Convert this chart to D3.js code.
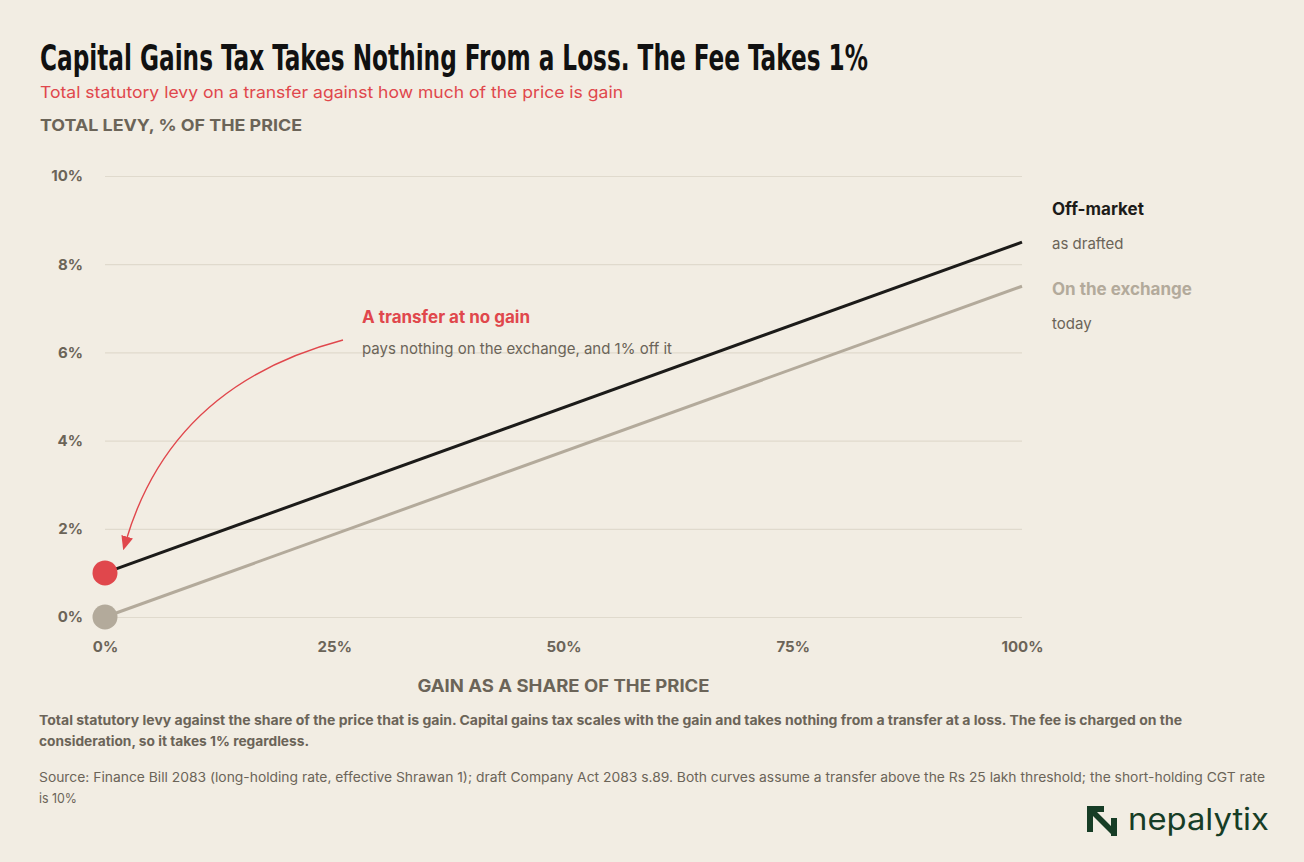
<!DOCTYPE html>
<html>
<head>
<meta charset="utf-8">
<script src="https://cdn.jsdelivr.net/npm/d3@7"></script>
<style>
  html, body { margin: 0; padding: 0; background: #f2ede3; }
  svg { display: block; }
</style>
</head>
<body>
<svg id="chart" width="1304" height="862"></svg>
<script>
// gain as a share of the price (%)
const gainShare = [0, 100];
// total levy, % of the price
const offMarket = [1, 8.5];
const onExchange = [0, 7.5];
const xTicks = [0, 25, 50, 75, 100];
const yTicks = [0, 2, 4, 6, 8, 10];

const width = 1304,
  height = 862,
  margin = { top: 176, right: 282, bottom: 245, left: 105 };

const ink = '#6b6458',
  red = '#e0474c',
  dark = '#1c1b19',
  sand = '#b3aa9b',
  grid = '#e0dacd';

const svg = d3.select('#chart').style('background-color', '#f2ede3');

const x = d3
  .scaleLinear()
  .domain([0, 100])
  .range([margin.left, width - margin.right]);

const y = d3
  .scaleLinear()
  .domain([0, 10])
  .range([height - margin.bottom, margin.top]);

// titles
svg
  .append('text')
  .attr('x', 40)
  .attr('y', 70)
  .attr('font-family', "'Liberation Sans Narrow', 'DejaVu Sans Condensed', sans-serif")
  .attr('font-weight', 'bold')
  .attr('font-size', 35)
  .attr('fill', '#111')
  .attr('textLength', 828)
  .attr('lengthAdjust', 'spacingAndGlyphs')
  .text('Capital Gains Tax Takes Nothing From a Loss. The Fee Takes 1%');

svg
  .append('text')
  .attr('x', 40)
  .attr('y', 98)
  .attr('font-family', 'Inter, sans-serif')
  .attr('font-size', 16.5)
  .attr('fill', red)
  .attr('textLength', 583)
  .attr('lengthAdjust', 'spacingAndGlyphs')
  .text('Total statutory levy on a transfer against how much of the price is gain');

svg
  .append('text')
  .attr('x', 40)
  .attr('y', 131)
  .attr('font-family', 'Inter, sans-serif')
  .attr('font-weight', 'bold')
  .attr('font-size', 16)
  .attr('fill', ink)
  .attr('textLength', 262)
  .attr('lengthAdjust', 'spacingAndGlyphs')
  .text('TOTAL LEVY, % OF THE PRICE');

// y axis with gridlines
svg
  .append('g')
  .attr('transform', `translate(${margin.left},0)`)
  .call(
    d3
      .axisLeft(y)
      .tickValues(yTicks)
      .tickSize(-(width - margin.left - margin.right))
      .tickPadding(22)
      .tickFormat(d => d + '%')
  )
  .call(g => g.select('.domain').remove())
  .call(g => g.selectAll('.tick line').attr('stroke', grid).attr('stroke-width', 1.2))
  .call(g =>
    g
      .selectAll('.tick text')
      .attr('font-family', 'Inter, sans-serif')
      .attr('font-weight', 'bold')
      .attr('font-size', 15)
      .attr('fill', ink)
  );

// x axis labels
svg
  .append('g')
  .attr('transform', `translate(0,${height - margin.bottom})`)
  .call(
    d3
      .axisBottom(x)
      .tickValues(xTicks)
      .tickSize(0)
      .tickPadding(24)
      .tickFormat(d => d + '%')
  )
  .call(g => g.select('.domain').remove())
  .call(g =>
    g
      .selectAll('.tick text')
      .attr('font-family', 'Inter, sans-serif')
      .attr('font-weight', 'bold')
      .attr('font-size', 15)
      .attr('fill', ink)
  );

svg
  .append('text')
  .attr('x', (x(0) + x(100)) / 2)
  .attr('y', 692)
  .attr('text-anchor', 'middle')
  .attr('font-family', 'Inter, sans-serif')
  .attr('font-weight', 'bold')
  .attr('font-size', 17)
  .attr('fill', ink)
  .attr('textLength', 292)
  .attr('lengthAdjust', 'spacingAndGlyphs')
  .text('GAIN AS A SHARE OF THE PRICE');

// lines
const line = d3
  .line()
  .x(d => x(d[0]))
  .y(d => y(d[1]));

const series = [
  { name: 'Off-market', note: 'as drafted', values: offMarket, color: dark, dot: red },
  { name: 'On the exchange', note: 'today', values: onExchange, color: sand, dot: sand }
];

svg
  .selectAll('.series')
  .data(series.slice().reverse())
  .join('path')
  .attr('class', 'series')
  .attr('fill', 'none')
  .attr('stroke', d => d.color)
  .attr('stroke-width', 3)
  .attr('d', d => line(d3.zip(gainShare, d.values)));

svg
  .selectAll('.dot')
  .data(series)
  .join('circle')
  .attr('class', 'dot')
  .attr('cx', x(gainShare[0]))
  .attr('cy', d => y(d.values[0]))
  .attr('r', 12.5)
  .attr('fill', d => d.dot);

// legend stacked from the top line end
const legendTop = y(offMarket[1]) - 27;
const legend = svg
  .selectAll('.legend')
  .data(series)
  .join('g')
  .attr('class', 'legend')
  .attr('transform', (d, i) => `translate(1052,${legendTop + i * 80})`);

legend
  .append('text')
  .attr('font-family', 'Inter, sans-serif')
  .attr('font-weight', 'bold')
  .attr('font-size', 17)
  .attr('fill', d => d.color)
  .text(d => d.name);

legend
  .append('text')
  .attr('y', 34)
  .attr('font-family', 'Inter, sans-serif')
  .attr('font-size', 15)
  .attr('fill', ink)
  .text(d => d.note);

// annotation
const defs = svg.append('defs');
defs
  .append('marker')
  .attr('id', 'arrow')
  .attr('viewBox', '0 0 10 10')
  .attr('refX', 3)
  .attr('refY', 5)
  .attr('markerWidth', 14)
  .attr('markerHeight', 12)
  .attr('orient', 'auto-start-reverse')
  .attr('markerUnits', 'userSpaceOnUse')
  .attr('preserveAspectRatio', 'none')
  .append('path')
  .attr('d', 'M0,0L10,5L0,10Z')
  .attr('fill', red);

const ax0 = 343, ay0 = 340;
const ax1 = x(0) + 21, ay1 = y(2) + 12;
svg
  .append('path')
  .attr('d', `M${ax0},${ay0}Q${172},${385} ${ax1},${ay1}`)
  .attr('fill', 'none')
  .attr('stroke', red)
  .attr('stroke-width', 1.4)
  .attr('marker-end', 'url(#arrow)');

svg
  .append('text')
  .attr('x', 362)
  .attr('y', 323)
  .attr('font-family', 'Inter, sans-serif')
  .attr('font-weight', 'bold')
  .attr('font-size', 17)
  .attr('fill', red)
  .text('A transfer at no gain');

svg
  .append('text')
  .attr('x', 362)
  .attr('y', 354)
  .attr('font-family', 'Inter, sans-serif')
  .attr('font-size', 15)
  .attr('fill', ink)
  .text('pays nothing on the exchange, and 1% off it');

// footnotes
const notes = [
  { text: 'Total statutory levy against the share of the price that is gain. Capital gains tax scales with the gain and takes nothing from a transfer at a loss. The fee is charged on the', y: 725, bold: true, len: 1143 },
  { text: 'consideration, so it takes 1% regardless.', y: 746, bold: true, len: 270 },
  { text: 'Source: Finance Bill 2083 (long-holding rate, effective Shrawan 1); draft Company Act 2083 s.89. Both curves assume a transfer above the Rs 25 lakh threshold; the short-holding CGT rate', y: 782, bold: false, len: 1226 },
  { text: 'is 10%', y: 803, bold: false, len: 38 }
];

svg
  .selectAll('.note')
  .data(notes)
  .join('text')
  .attr('class', 'note')
  .attr('x', 39)
  .attr('y', d => d.y)
  .attr('font-family', 'Inter, sans-serif')
  .attr('font-weight', d => (d.bold ? 'bold' : 'normal'))
  .attr('font-size', 13)
  .attr('fill', ink)
  .attr('textLength', d => d.len)
  .attr('lengthAdjust', 'spacingAndGlyphs')
  .text(d => d.text);

// logo
const logo = svg.append('g').attr('transform', 'translate(1087,806)');
logo
  .append('path')
  .attr('fill', '#173d26')
  .attr('d', 'M0,0H17V6H10L24,20V12H30V30H24V28L6,10V26H0Z');
logo
  .append('text')
  .attr('x', 41)
  .attr('y', 24)
  .attr('font-family', 'Inter, sans-serif')
  .attr('font-size', 30)
  .attr('fill', '#173d26')
  .attr('textLength', 141)
  .attr('lengthAdjust', 'spacingAndGlyphs')
  .text('nepalytix');
</script>
</body>
</html>
